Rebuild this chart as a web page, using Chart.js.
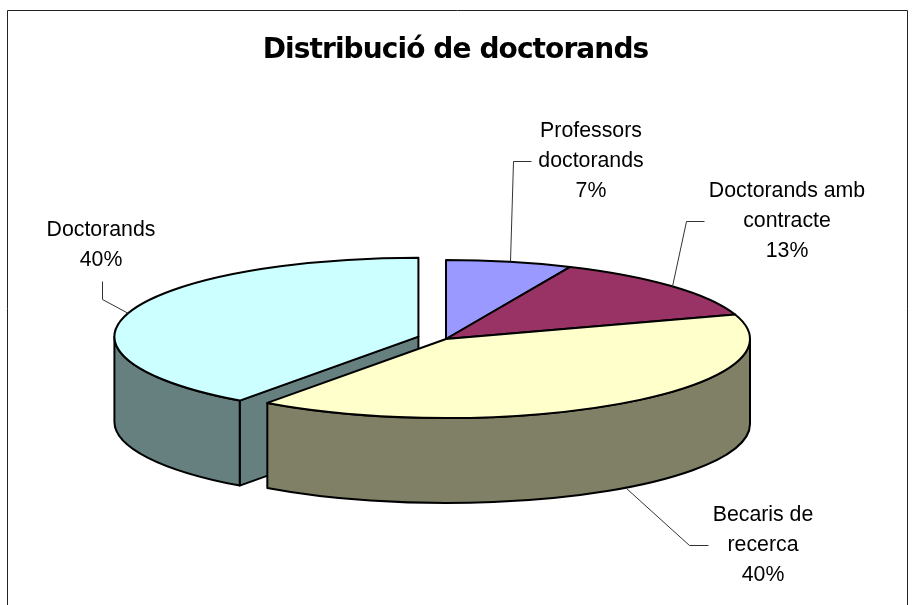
<!DOCTYPE html>
<html>
<head>
<meta charset="utf-8">
<style>html,body{margin:0;padding:0;background:#fff}canvas{display:block}</style>
<script src="https://cdn.jsdelivr.net/npm/chart.js@4"></script>
</head>
<body>
<canvas id="c" width="916" height="605"></canvas>
<script>
const titleText = 'Distribució de doctorands';
const categories = ['Professors doctorands', 'Doctorands amb contracte', 'Becaris de recerca', 'Doctorands'];
const values = [6.7, 13.3, 40, 40];
const topColors = ['#9999FF', '#993366', '#FFFFCC', '#CCFFFF'];
const sideColors = ['#4D4D80', '#4D1A33', '#808066', '#668080'];
const explode = [0, 0, 0, 29];

const pieCenter = {x: 446, y: 339};
const squash = 79 / 304;
const depth = 85;
const labelLayout = [
  {x: 591, y: 137, wrap: 160, leader: [[531,161],[513,161],[510,261]]},
  {x: 787, y: 197, wrap: 170, leader: [[704,221],[686,221],[672,286]]},
  {x: 763, y: 521, wrap: 120, leader: [[708,545],[689,545],[626,488]]},
  {x: 101, y: 236, wrap: 170, leader: [[102,281],[102,299],[128,313]]}
];

function visibleRange(a, b) {
  const T = Math.PI * 2;
  for (const k of [0, T, -T]) {
    const s = Math.max(a, k), e = Math.min(b, k + Math.PI);
    if (e > s) return [s, e];
  }
  return null;
}

const pie3d = {
  id: 'pie3d',
  beforeDraw(chart) {
    chart.ctx.letterSpacing = '-0.9px';
  },
  beforeDatasetsDraw(chart) {
    const ctx = chart.ctx;
    const arcs = chart.getDatasetMeta(0).data;
    const order = [3, 0, 1, 2];
    ctx.save();
    ctx.lineJoin = 'round';
    ctx.lineWidth = 2;
    ctx.strokeStyle = '#000';
    for (const i of order) {
      const arc = arcs[i];
      const mid = (arc.startAngle + arc.endAngle) / 2;
      const cx = pieCenter.x + Math.cos(mid) * explode[i];
      const cy = pieCenter.y + Math.sin(mid) * explode[i] * squash;
      const rx = arc.outerRadius, ry = rx * squash;
      const a = arc.startAngle, b = arc.endAngle;
      if (i === 3) {
        const px = cx + rx * Math.cos(a), py = cy + ry * Math.sin(a);
        ctx.beginPath();
        ctx.moveTo(cx, cy); ctx.lineTo(px, py);
        ctx.lineTo(px, py + depth); ctx.lineTo(cx, cy + depth);
        ctx.closePath();
        ctx.fillStyle = sideColors[i];
        ctx.fill(); ctx.stroke();
      }
      const vis = visibleRange(a, b);
      if (vis) {
        ctx.beginPath();
        ctx.ellipse(cx, cy, rx, ry, 0, vis[0], vis[1]);
        ctx.ellipse(cx, cy + depth, rx, ry, 0, vis[1], vis[0], true);
        ctx.closePath();
        ctx.fillStyle = sideColors[i];
        ctx.fill(); ctx.stroke();
      }
      ctx.save();
      ctx.translate(cx, cy);
      ctx.scale(1, squash);
      ctx.translate(-arc.x, -arc.y);
      arc.draw(ctx);
      ctx.restore();
      ctx.beginPath();
      ctx.moveTo(cx, cy);
      ctx.ellipse(cx, cy, rx, ry, 0, a, b);
      ctx.closePath();
      ctx.stroke();
    }
    ctx.restore();
    return false;
  },
  afterDraw(chart) {
    const ctx = chart.ctx;
    ctx.save();
    ctx.letterSpacing = '0px';
    ctx.strokeStyle = '#222';
    ctx.lineWidth = 1;
    ctx.beginPath();
    ctx.moveTo(7.5, 606); ctx.lineTo(7.5, 10.5); ctx.lineTo(907.5, 10.5); ctx.lineTo(907.5, 606);
    ctx.stroke();
    ctx.font = '21.3px "Liberation Sans"';
    ctx.fillStyle = '#000';
    ctx.textAlign = 'center';
    ctx.textBaseline = 'alphabetic';
    categories.forEach((name, i) => {
      const L = labelLayout[i];
      const lines = []; let cur = '';
      name.split(' ').forEach(w => {
        const t = cur ? cur + ' ' + w : w;
        if (ctx.measureText(t).width > L.wrap && cur) { lines.push(cur); cur = w; } else cur = t;
      });
      lines.push(cur);
      lines.push(Math.round(values[i]) + '%');
      lines.forEach((t, k) => ctx.fillText(t, L.x, L.y + k * 30));
      ctx.strokeStyle = '#333';
      ctx.lineWidth = 1;
      ctx.beginPath();
      L.leader.forEach((p, k) => k ? ctx.lineTo(p[0] + .5, p[1] + .5) : ctx.moveTo(p[0] + .5, p[1] + .5));
      ctx.stroke();
    });
    ctx.restore();
  }
};

new Chart(document.getElementById('c'), {
  type: 'pie',
  data: {
    labels: categories,
    datasets: [{data: values, backgroundColor: topColors, borderWidth: 0, radius: 304}]
  },
  options: {
    responsive: false,
    animation: false,
    layout: {padding: {right: 5}},
    plugins: {
      legend: {display: false},
      tooltip: {enabled: false},
      title: {
        display: true,
        text: titleText,
        color: '#000',
        font: {family: '"DejaVu Sans"', size: 28, weight: 'bold'},
        padding: {top: 34, bottom: 0}
      }
    }
  },
  plugins: [pie3d]
});
</script>
</body>
</html>
